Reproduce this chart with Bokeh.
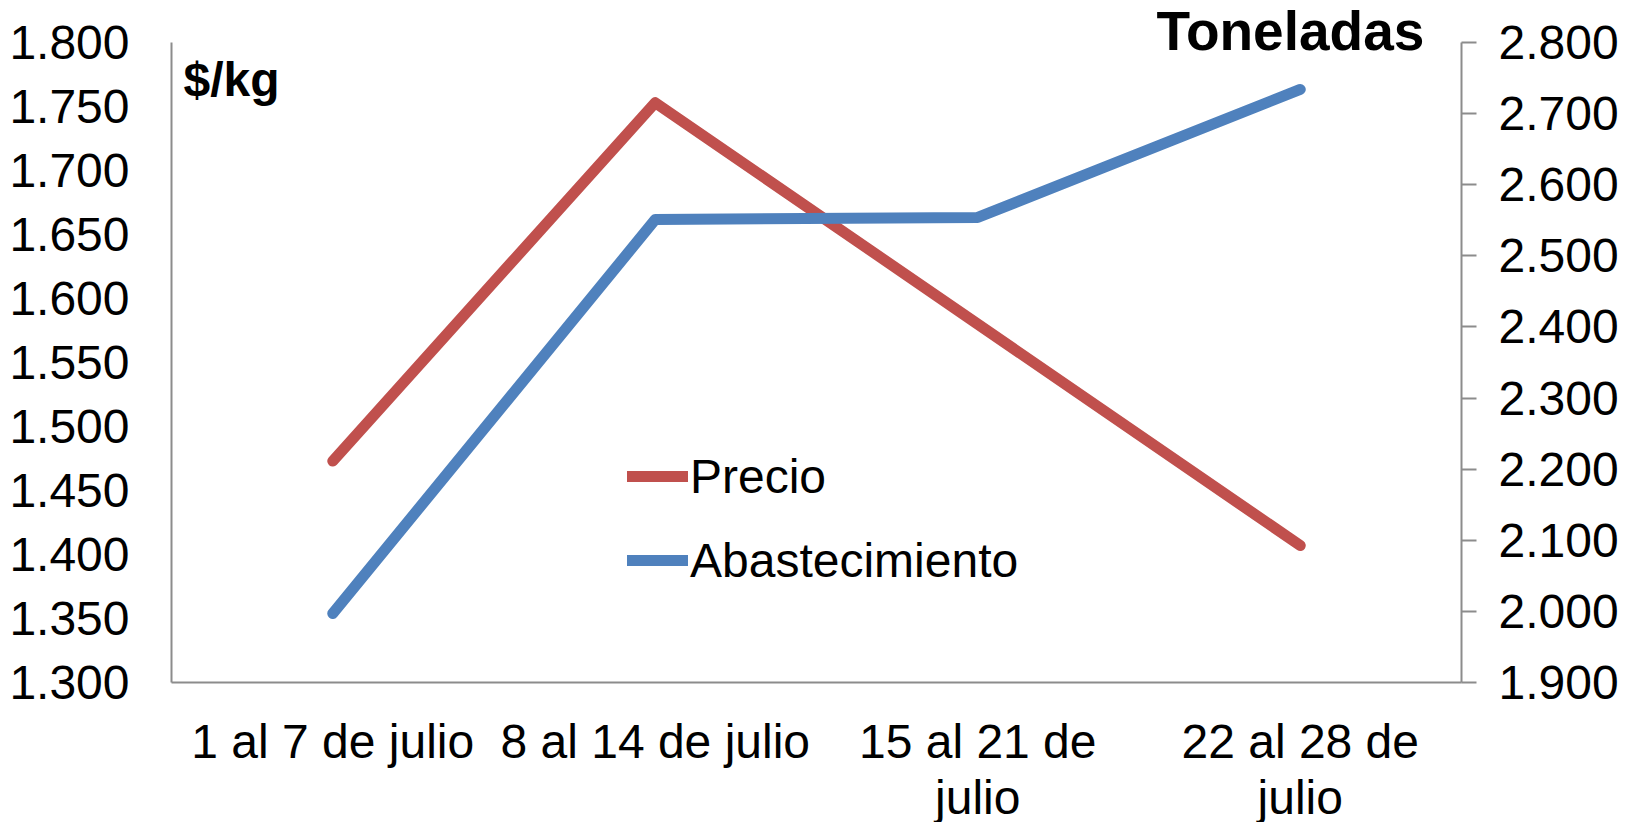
from bokeh.plotting import figure
from bokeh.models import (FactorRange, Range1d, LinearAxis, CategoricalAxis, FixedTicker,
                          Legend, LegendItem, Label, CustomJSTickFormatter)
from bokeh.embed import file_html
from bokeh.resources import INLINE

# ---- data ----
categories = ["1 al 7 de julio", "8 al 14 de julio", "15 al 21 de julio", "22 al 28 de julio"]
label_line1 = ["1 al 7 de julio", "8 al 14 de julio", "15 al 21 de", "22 al 28 de"]
label_line2 = ["", "", "julio", "julio"]
precio = [1473, 1753, 1580, 1407]            # $/kg
abastecimiento = [1997, 2551, 2554, 2734]    # toneladas
left_ticks = [1300, 1350, 1400, 1450, 1500, 1550, 1600, 1650, 1700, 1750, 1800]
left_tick_labels = ["1.300", "1.350", "1.400", "1.450", "1.500", "1.550",
                    "1.600", "1.650", "1.700", "1.750", "1.800"]
right_ticks = [1900, 2000, 2100, 2200, 2300, 2400, 2500, 2600, 2700, 2800]
right_tick_labels = ["1.900", "2.000", "2.100", "2.200", "2.300", "2.400",
                     "2.500", "2.600", "2.700", "2.800"]

FONT = "Liberation Sans"
RED = "#C0504D"
BLUE = "#4F81BD"
AXIS = "#8C8C8C"
TICK_FS = "48px"

# frame: top of canvas down to axis; 42px of head room above the top tick
HEAD = 42
FRAME_H = 682
PLOT_H = FRAME_H - HEAD
left_top = left_ticks[-1] + HEAD * (left_ticks[-1] - left_ticks[0]) / PLOT_H
right_top = right_ticks[-1] + HEAD * (right_ticks[-1] - right_ticks[0]) / PLOT_H

p = figure(frame_width=1290, frame_height=FRAME_H, title=None,
           output_backend="svg", toolbar_location=None,
           x_range=FactorRange(*categories, range_padding=0),
           y_range=Range1d(left_ticks[0], left_top),
           min_border_left=171, min_border_right=169, min_border_top=0,
           min_border_bottom=0)
p.extra_y_ranges = {"ton": Range1d(right_ticks[0], right_top)}
p.outline_line_color = None
p.xgrid.visible = False
p.ygrid.visible = False
p.background_fill_color = "white"
p.border_fill_color = "white"

# left axis
ya = p.yaxis[0]
ya.ticker = FixedTicker(ticks=left_ticks)
ya.bounds = (left_ticks[0], left_ticks[-1])
ya.major_label_overrides = dict(zip(left_ticks, left_tick_labels))
ya.major_tick_line_color = None
ya.major_tick_out = 0
ya.major_tick_in = 0
ya.minor_tick_line_color = None
ya.axis_line_color = AXIS
ya.axis_line_width = 2
ya.major_label_text_font = FONT
ya.major_label_text_font_size = TICK_FS
ya.major_label_text_color = "black"
ya.major_label_standoff = 42

# right axis
ra = LinearAxis(y_range_name="ton")
ra.ticker = FixedTicker(ticks=right_ticks)
ra.bounds = (right_ticks[0], right_ticks[-1])
ra.major_label_overrides = dict(zip(right_ticks, right_tick_labels))
ra.major_tick_in = 0
ra.major_tick_out = 15
ra.major_tick_line_color = AXIS
ra.major_tick_line_width = 2
ra.minor_tick_line_color = None
ra.axis_line_color = AXIS
ra.axis_line_width = 2
ra.major_label_text_font = FONT
ra.major_label_text_font_size = TICK_FS
ra.major_label_text_color = "black"
ra.major_label_standoff = 22
p.add_layout(ra, "right")

LABEL_CODE = "const i = cats.indexOf(tick); return i >= 0 ? labels[i] : '';"

# bottom axis (first line of the category labels)
xa = p.xaxis[0]
xa.formatter = CustomJSTickFormatter(args=dict(cats=categories, labels=label_line1),
                                     code=LABEL_CODE)
xa.major_tick_line_color = None
xa.major_tick_out = 0
xa.major_tick_in = 0
xa.minor_tick_line_color = None
xa.axis_line_color = AXIS
xa.axis_line_width = 2
xa.major_label_text_font = FONT
xa.major_label_text_font_size = TICK_FS
xa.major_label_text_color = "black"
xa.major_label_standoff = 32

# second row of the category labels
xa2 = CategoricalAxis()
xa2.formatter = CustomJSTickFormatter(args=dict(cats=categories, labels=label_line2),
                                      code=LABEL_CODE)
xa2.axis_line_color = None
xa2.major_tick_line_color = None
xa2.major_tick_out = 0
xa2.major_tick_in = 0
xa2.minor_tick_line_color = None
xa2.major_label_text_font = FONT
xa2.major_label_text_font_size = TICK_FS
xa2.major_label_text_color = "black"
xa2.major_label_standoff = 0
p.add_layout(xa2, "below")

# lines
r1 = p.line(categories, precio, line_color=RED, line_width=11,
            line_cap="round", line_join="round")
r2 = p.line(categories, abastecimiento, line_color=BLUE, line_width=11,
            line_cap="round", line_join="round", y_range_name="ton")

legend = Legend(items=[LegendItem(label="Precio", renderers=[r1]),
                       LegendItem(label="Abastecimiento", renderers=[r2])],
                location=(456, 94), orientation="vertical",
                glyph_width=61, glyph_height=56, label_height=56,
                label_standoff=2, spacing=28, padding=0, margin=0,
                border_line_color=None, background_fill_alpha=0,
                label_text_font=FONT, label_text_font_size=TICK_FS,
                label_text_color="black")
p.add_layout(legend, "center")

p.add_layout(Label(x=0.037, y=1771, text="$/kg", text_font=FONT,
                   text_font_size="48px", text_font_style="bold",
                   text_baseline="alphabetic", text_color="black"))
p.add_layout(Label(x=3.054, y=1809, text="Toneladas", text_font=FONT,
                   text_font_size="55px", text_font_style="bold",
                   text_baseline="alphabetic", text_color="black"))

open("out.html", "w").write(file_html(p, INLINE))
